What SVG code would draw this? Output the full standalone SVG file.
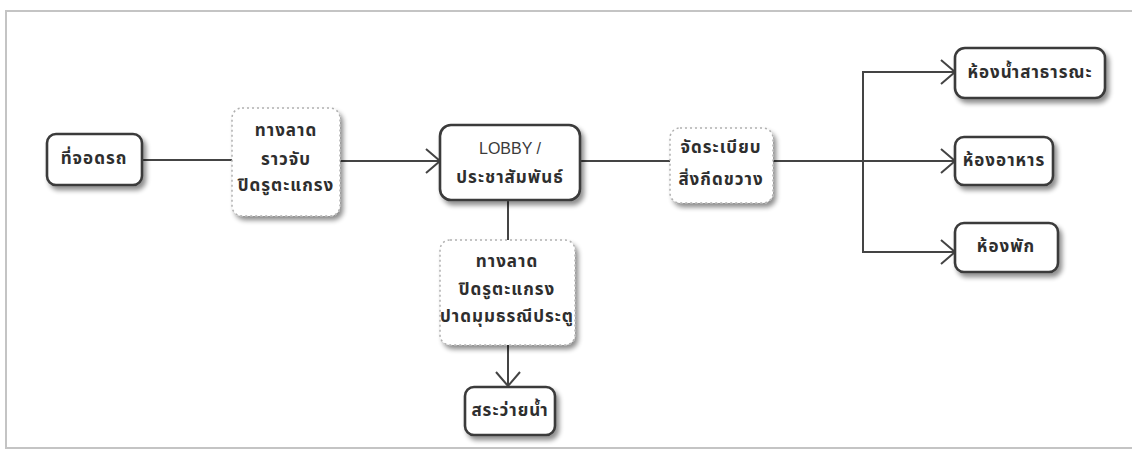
<svg xmlns="http://www.w3.org/2000/svg" width="1132" height="451" viewBox="0 0 1132 451">
<style>
.frame{fill:#fff;stroke:#c4c4c4;stroke-width:2}
.box{fill:#fff;stroke:#3a3a3a;stroke-width:2.6}
.soft{fill:#fff;stroke:#b0b0b0;stroke-width:1.5;stroke-dasharray:2 3}
.t{font-family:"Noto Sans Thai","Noto Sans","DejaVu Sans",sans-serif;font-size:17px;font-weight:bold;letter-spacing:1px;fill:#2e2e2e;text-anchor:middle;dominant-baseline:central}
.l{font-family:"Liberation Sans",Arial,sans-serif;font-size:16px;fill:#3a3a3a;text-anchor:middle;dominant-baseline:central}
.c{fill:none;stroke:#444;stroke-width:2}
</style>
<defs>
<filter id="sh" x="-20%" y="-20%" width="150%" height="150%">
<feGaussianBlur in="SourceAlpha" stdDeviation="2.5"/>
<feOffset dx="3" dy="4" result="b"/>
<feComponentTransfer><feFuncA type="linear" slope="0.45"/></feComponentTransfer>
<feMerge><feMergeNode/><feMergeNode in="SourceGraphic"/></feMerge>
</filter>
<marker id="arr" viewBox="0 0 16 26" refX="15" refY="13" markerWidth="16" markerHeight="26" markerUnits="userSpaceOnUse" orient="auto">
<path d="M1,1 L15,13 L1,25" fill="none" stroke="#444" stroke-width="2"/>
</marker>
</defs>
<rect class="frame" x="6" y="11" width="1132" height="437"/>
<g id="connectors">
<line class="c" x1="142" y1="160" x2="232" y2="160"/>
<line class="c" x1="340" y1="161" x2="440" y2="161" marker-end="url(#arr)"/>
<line class="c" x1="580" y1="161" x2="670" y2="161"/>
<line class="c" x1="773" y1="161" x2="955" y2="161" marker-end="url(#arr)"/>
<line class="c" x1="863" y1="72" x2="863" y2="252"/>
<line class="c" x1="862" y1="252" x2="955" y2="252" marker-end="url(#arr)"/>
<line class="c" x1="862" y1="72" x2="955" y2="72" marker-end="url(#arr)"/>
<line class="c" x1="508" y1="200" x2="508" y2="241"/>
<line class="c" x1="508" y1="345" x2="508" y2="386" marker-end="url(#arr)"/>
</g>
<g id="parking">
<rect class="box" x="47" y="134" width="95" height="51" rx="9" filter="url(#sh)"/>
<text class="t" x="94" y="159">ที่จอดรถ</text>
</g>
<g id="ramp1">
<rect class="soft" x="232" y="108" width="108" height="108" rx="10" filter="url(#sh)"/>
<text class="t" x="286" y="131">ทางลาด</text>
<text class="t" x="286" y="160">ราวจับ</text>
<text class="t" x="286" y="186">ปิดรูตะแกรง</text>
</g>
<g id="lobby">
<rect class="box" x="440" y="125" width="140" height="75" rx="11" filter="url(#sh)"/>
<text class="l" x="510" y="148">LOBBY /</text>
<text class="t" x="510" y="178">ประชาสัมพันธ์</text>
</g>
<g id="arrange">
<rect class="soft" x="670" y="128" width="103" height="75" rx="10" filter="url(#sh)"/>
<text class="t" x="721" y="148">จัดระเบียบ</text>
<text class="t" x="721" y="180">สิ่งกีดขวาง</text>
</g>
<g id="ramp2">
<rect class="soft" x="440" y="240" width="135" height="105" rx="10" filter="url(#sh)"/>
<text class="t" x="507" y="262">ทางลาด</text>
<text class="t" x="507" y="290">ปิดรูตะแกรง</text>
<text class="t" x="507" y="317">ปาดมุมธรณีประตู</text>
</g>
<g id="pool">
<rect class="box" x="465" y="387" width="90" height="48" rx="9" filter="url(#sh)"/>
<text class="t" x="510" y="411">สระว่ายน้ำ</text>
</g>
<g id="toilet">
<rect class="box" x="955" y="48" width="150" height="50" rx="10" filter="url(#sh)"/>
<text class="t" x="1030" y="73">ห้องน้ำสาธารณะ</text>
</g>
<g id="dining">
<rect class="box" x="955" y="137" width="98" height="48" rx="9" filter="url(#sh)"/>
<text class="t" x="1004" y="161">ห้องอาหาร</text>
</g>
<g id="room">
<rect class="box" x="955" y="223" width="103" height="49" rx="9" filter="url(#sh)"/>
<text class="t" x="1006" y="247">ห้องพัก</text>
</g>
</svg>
